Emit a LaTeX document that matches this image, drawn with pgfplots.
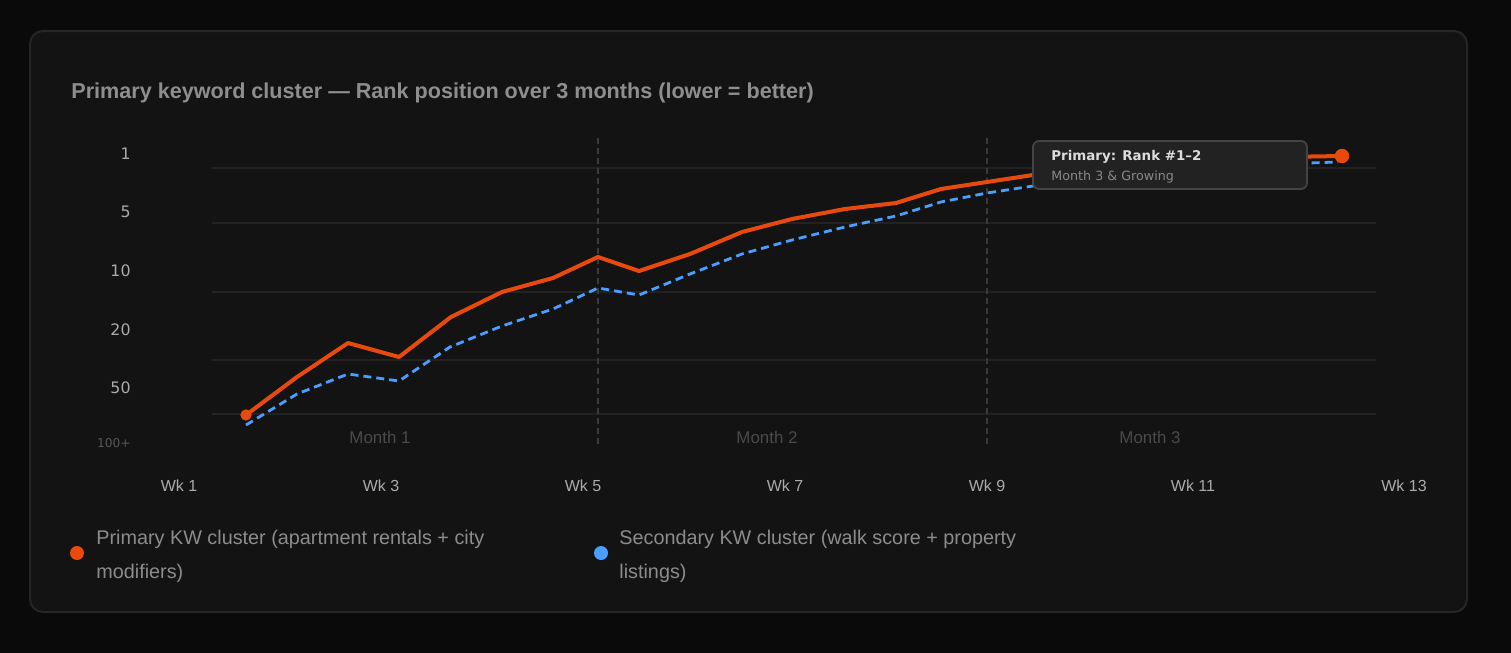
\documentclass[border=0pt]{standalone}
\usepackage{pgfplots}
\usepackage{pgfplotstable}
\pgfplotsset{compat=1.18}
\usepackage{fontspec}
\setmainfont{Liberation Sans}
\newfontfamily\dejavu{DejaVu Sans}
\definecolor{pagebg}{HTML}{0A0A0A}
\definecolor{cardbg}{HTML}{131313}
\definecolor{cardborder}{HTML}{262626}
\definecolor{gridc}{HTML}{222222}
\definecolor{vdash}{HTML}{3A3A3A}
\definecolor{titlec}{HTML}{8E8E8E}
\definecolor{tickc}{HTML}{ABABAB}
\definecolor{faintc}{HTML}{555555}
\definecolor{monthc}{HTML}{4A4A4A}
\definecolor{legc}{HTML}{8C8C8C}
\definecolor{prim}{HTML}{E84A0E}
\definecolor{sec}{HTML}{4A9EFF}
\definecolor{tipbg}{HTML}{222222}
\definecolor{tipborder}{HTML}{444444}
\definecolor{tiptext}{HTML}{DDDDDD}
\definecolor{tipsub}{HTML}{888888}

% positions in picture pixels (x to the right, y downward)
\pgfplotstableread{
x y
246 415
297 377
348 343
399 357
451 317
502 292
553 278
598 257
639 271
690 254
742 232
792 219
845 209
896 203
941 189
987 182
1033 175
1080 170
1130 166
1180 162
1230 159
1280 157
1342 156
}\primary

\pgfplotstableread{
x y
246 425
297 394
348 374
399 381
450 347
502 326
553 309
598 288
639 295
690 274
742 254
792 240
845 227
896 216
941 202
987 193
1033 186
1080 180
1130 175
1180 171
1230 167
1280 164
1338 162
}\secondary

\tikzset{
  ylab/.style={anchor=base east, inner sep=0, text=tickc, font=\dejavu\fontsize{7.9pt}{10pt}\selectfont},
  xlab/.style={anchor=base, inner sep=0, text=tickc, font=\fontsize{8pt}{10pt}\selectfont},
  mlab/.style={anchor=base, inner sep=0, text=monthc, font=\fontsize{8.45pt}{10pt}\selectfont},
  leg/.style={anchor=base west, inner sep=0, text=legc, font=\fontsize{9.9pt}{12pt}\selectfont},
  grid line/.style={gridc, line width=0.75pt},
  month sep/.style={vdash, line width=0.75pt, dash pattern=on 3pt off 2pt},
}

\begin{document}
\begin{tikzpicture}
\begin{axis}[
  scale only axis, width=755.5pt, height=326.5pt,
  xmin=0, xmax=1511, ymin=0, ymax=653, y dir=reverse,
  hide axis, clip=false,
]
% background and card
\fill[pagebg] (axis cs:0,0) rectangle (axis cs:1511,653);
\draw[cardborder, fill=cardbg, line width=1pt, rounded corners=6.5pt] (axis cs:30,31) rectangle (axis cs:1467,612);

% title
\node[anchor=base west, inner sep=0, text=titlec, font=\fontsize{10.8pt}{12pt}\selectfont\bfseries] at (axis cs:71,98) {Primary keyword cluster — Rank position over 3 months (lower = better)};

% horizontal grid
\draw[grid line] (axis cs:212,168) -- (axis cs:1376,168);
\draw[grid line] (axis cs:212,223) -- (axis cs:1376,223);
\draw[grid line] (axis cs:212,292) -- (axis cs:1376,292);
\draw[grid line] (axis cs:212,360) -- (axis cs:1376,360);
\draw[grid line] (axis cs:212,414) -- (axis cs:1376,414);
% month separators
\draw[month sep] (axis cs:598,138) -- (axis cs:598,444);
\draw[month sep] (axis cs:987,138) -- (axis cs:987,444);

% y labels
\node[ylab] at (axis cs:131,159) {1};
\node[ylab] at (axis cs:131,217.5) {5};
\node[ylab] at (axis cs:131,276.5) {10};
\node[ylab] at (axis cs:131,335) {20};
\node[ylab] at (axis cs:131,393) {50};
\node[anchor=base east, inner sep=0, text=faintc, font=\dejavu\fontsize{6.1pt}{8pt}\selectfont] at (axis cs:131,447) {100+};

% month labels
\node[mlab] at (axis cs:380,443) {Month 1};
\node[mlab] at (axis cs:767,443) {Month 2};
\node[mlab] at (axis cs:1150,443) {Month 3};

% x labels
\node[xlab] at (axis cs:179,491) {Wk 1};
\node[xlab] at (axis cs:381,491) {Wk 3};
\node[xlab] at (axis cs:583,491) {Wk 5};
\node[xlab] at (axis cs:785,491) {Wk 7};
\node[xlab] at (axis cs:987,491) {Wk 9};
\node[xlab] at (axis cs:1193,491) {Wk 11};
\node[xlab] at (axis cs:1404,491) {Wk 13};

% series
\addplot[sec, line width=1.4pt, dash pattern=on 4pt off 2.5pt, line join=round] table[x=x,y=y] {\secondary};
\addplot[prim, line width=2pt, line join=round, line cap=round] table[x=x,y=y] {\primary};
\addplot[only marks, mark=*, mark size=2.6pt, prim, mark options={draw=prim, fill=prim}] coordinates {(246,415)};
\addplot[only marks, mark=*, mark size=3.4pt, prim, mark options={draw=prim, fill=prim}] coordinates {(1342,156)};

% tooltip
\draw[tipborder, fill=tipbg, line width=0.9pt, rounded corners=3pt] (axis cs:1033,141) rectangle (axis cs:1307,189);
\node[anchor=base west, inner sep=0, text=tiptext, font=\dejavu\fontsize{6.7pt}{8pt}\selectfont\bfseries] at (axis cs:1051,160) {Primary: Rank \#1–2};
\node[anchor=base west, inner sep=0, text=tipsub, font=\dejavu\fontsize{6.35pt}{7pt}\selectfont] at (axis cs:1051,180) {Month 3 \& Growing};

% legend
\fill[prim] (axis cs:77,553) circle (3.5pt);
\node[leg] at (axis cs:96,544) {Primary KW cluster (apartment rentals + city};
\node[leg] at (axis cs:96,578) {modifiers)};
\fill[sec] (axis cs:601,553) circle (3.5pt);
\node[leg] at (axis cs:619,544) {Secondary KW cluster (walk score + property};
\node[leg] at (axis cs:619,578) {listings)};
\end{axis}
\end{tikzpicture}
\end{document}
